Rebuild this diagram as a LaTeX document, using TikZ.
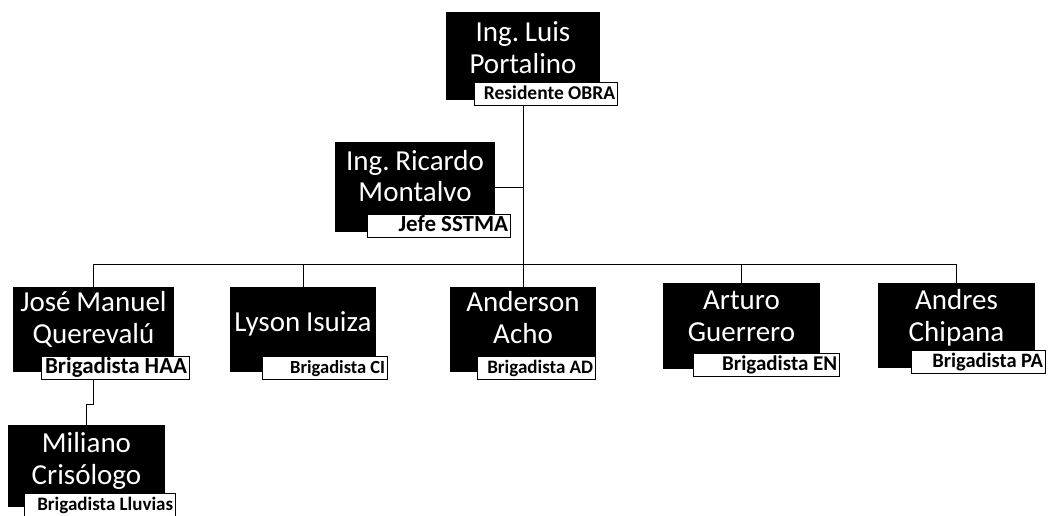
\documentclass[tikz,border=0pt]{standalone}
\usepackage{fontspec}
\setmainfont{Carlito}
\usepackage{tikz}

\begin{document}
\begin{tikzpicture}[x=1pt,y=-1pt,line width=0.8pt,
  name box/.style={fill=black,text=white,font=\fontsize{29}{32}\selectfont,align=center,inner sep=0pt,text width=#1,anchor=base,
    execute at begin node={\spaceskip=0.2em\relax\xspaceskip=0.2em\relax}},
  role box/.style={draw=black,fill=white,font=\bfseries\fontsize{19}{20}\selectfont,align=right,inner xsep=2.5pt,inner ysep=0pt,text width=#1-5pt,text height=17pt,text depth=6pt,anchor=south east,
    execute at begin node={\spaceskip=0.22em\relax\xspaceskip=0.22em\relax}},
  role size/.style={font=\bfseries\fontsize{#1}{20}\selectfont}]
\useasboundingbox (0,0) rectangle (1057,516);
\coordinate (bus) at (0,264);

\node[name box=154pt,text height=30pt,text depth=58pt] (luis) at (523,42) {Ing. Luis\\Portalino};
\node[role box=143pt,role size=19.5] (luisrole) at (618,106) {Residente OBRA};

\node[name box=160pt,text height=28pt,text depth=62pt] (ricardo) at (415,170) {Ing. Ricardo\\Montalvo};
\node[role box=143pt,role size=23] (ricardorole) at (511,238) {Jefe SSTMA};

\node[name box=161pt,text height=24pt,text depth=61pt] (jose) at (93.5,311) {José Manuel\\Querevalú};
\node[role box=148pt,role size=23] (joserole) at (190,380) {Brigadista HAA};

\node[name box=146pt,text height=44pt,text depth=41pt] (lyson) at (303,331) {Lyson Isuiza};
\node[role box=125pt,role size=18.5] (lysonrole) at (388,380) {Brigadista CI};

\node[name box=146pt,text height=24pt,text depth=61pt] (anderson) at (523,311) {Anderson\\Acho};
\node[role box=118pt] (andersonrole) at (596,380) {Brigadista AD};

\node[name box=157pt,text height=26pt,text depth=60pt] (arturo) at (741.5,309) {Arturo\\Guerrero};
\node[role box=146pt,role size=21] (arturorole) at (840,377) {Brigadista EN};

\node[name box=157pt,text height=26pt,text depth=59pt] (andres) at (956.5,309) {Andres\\Chipana};
\node[role box=134pt,role size=20.5] (andresrole) at (1046,374) {Brigadista PA};

\node[name box=157pt,text height=27pt,text depth=55pt] (miliano) at (86.5,452) {Miliano\\Crisólogo};
\node[role box=151pt] (milianorole) at (176,517) {Brigadista Lluvias};

% lines
\draw (luisrole.south -| luis) -- (luis |- bus);
\draw (ricardo.east) -- (ricardo.east -| luis);
\draw (jose |- bus) -- (andres |- bus);
\foreach \p in {jose,lyson,anderson,arturo,andres}
  \draw (\p.north) -- (\p.north |- bus);
\draw (joserole.south -| jose) -- ++(0,24) -| (miliano.north);
\end{tikzpicture}
\end{document}
